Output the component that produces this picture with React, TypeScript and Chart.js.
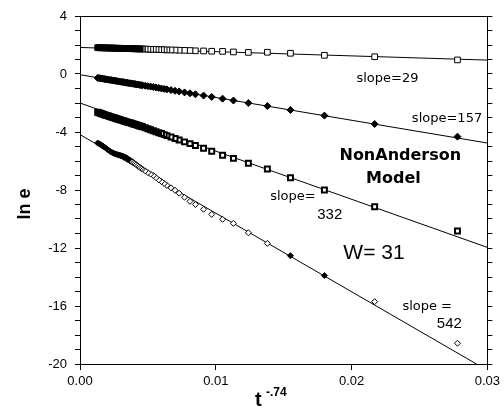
import React, { useEffect, useRef } from "react";
import { Chart, registerables } from "chart.js";

Chart.register(...registerables);

// x values: t^-0.74
const xValues = [
  0.0278, 0.0217, 0.018, 0.0155, 0.0138, 0.0124, 0.0113, 0.0105, 0.0097, 0.0091,
  0.0085, 0.0081, 0.0077, 0.0073, 0.007, 0.0067, 0.0064, 0.0062, 0.006, 0.0058,
  0.0056, 0.0054, 0.0052, 0.005, 0.0048, 0.0046, 0.0045, 0.0044, 0.0043, 0.0042,
  0.0041, 0.004, 0.0039, 0.0038, 0.0037, 0.0036, 0.0035, 0.0034, 0.0033, 0.0032,
  0.0031, 0.003, 0.0029, 0.0028, 0.0027, 0.0026, 0.0025, 0.0024, 0.0023, 0.0022,
  0.0021, 0.002, 0.0019, 0.0018, 0.0017, 0.0016, 0.0015, 0.0014, 0.0013,
];

// ln e, slope = 29 (open squares)
const seriesSlope29 = [
  0.97, 1.19, 1.29, 1.43, 1.5, 1.49, 1.52, 1.56, 1.57, 1.59,
  1.6, 1.62, 1.63, 1.64, 1.65, 1.66, 1.66, 1.67, 1.68, 1.68,
  1.69, 1.7, 1.7, 1.71, 1.72, 1.73, 1.72, 1.73, 1.73, 1.74,
  1.73, 1.74, 1.75, 1.75, 1.74, 1.75, 1.76, 1.76, 1.77, 1.76,
  1.77, 1.77, 1.78, 1.78, 1.77, 1.78, 1.79, 1.79, 1.78, 1.79,
  1.8, 1.8, 1.79, 1.8, 1.81, 1.81, 1.8, 1.81, 1.82,
];

// ln e, slope = 157 (filled diamonds)
const seriesSlope157 = [
  -4.32, -3.45, -2.87, -2.48, -2.21, -2.0, -1.83, -1.7, -1.58, -1.49,
  -1.4, -1.33, -1.27, -1.2, -1.16, -1.11, -1.06, -1.03, -1.0, -0.96,
  -0.93, -0.9, -0.87, -0.84, -0.81, -0.78, -0.77, -0.75, -0.73, -0.72,
  -0.7, -0.69, -0.67, -0.66, -0.64, -0.63, -0.61, -0.6, -0.58, -0.56,
  -0.55, -0.53, -0.52, -0.5, -0.49, -0.47, -0.45, -0.44, -0.42, -0.41,
  -0.39, -0.38, -0.36, -0.35, -0.33, -0.31, -0.3, -0.28, -0.27,
];

// ln e, slope = 332 (heavy squares)
const seriesSlope332 = [
  -10.83, -9.15, -8.0, -7.15, -6.55, -6.16, -5.82, -5.6, -5.33, -5.12,
  -4.93, -4.8, -4.68, -4.55, -4.45, -4.35, -4.25, -4.18, -4.11, -4.05,
  -3.98, -3.91, -3.84, -3.78, -3.71, -3.64, -3.61, -3.58, -3.55, -3.52,
  -3.49, -3.46, -3.43, -3.4, -3.37, -3.35, -3.32, -3.29, -3.26, -3.23,
  -3.2, -3.17, -3.14, -3.11, -3.08, -3.05, -3.02, -2.99, -2.96, -2.93,
  -2.9, -2.87, -2.84, -2.81, -2.77, -2.74, -2.71, -2.67, -2.64,
];

// ln e, slope = 542 (open diamonds, two filled)
const seriesSlope542 = [
  -18.57, -15.7, -13.9, -12.53, -11.68, -10.95, -10.3, -10.02, -9.68, -9.33,
  -9.0, -8.78, -8.5, -8.22, -8.02, -7.85, -7.68, -7.55, -7.42, -7.3,
  -7.15, -7.0, -6.9, -6.8, -6.68, -6.56, -6.5, -6.43, -6.36, -6.29,
  -6.22, -6.15, -6.08, -6.01, -5.95, -5.89, -5.83, -5.78, -5.73, -5.69,
  -5.65, -5.62, -5.6, -5.57, -5.54, -5.51, -5.47, -5.43, -5.38, -5.32,
  -5.25, -5.18, -5.11, -5.04, -4.98, -4.92, -4.86, -4.81, -4.76,
];
const filled542 = [false, false, true, true];

// fitted straight lines (start and end points)
const fitStartX = [0, 0, 0, 0];
const fitStartY = [1.83, -0.05, -2.0, -4.18];
const fitEndX = [0.03, 0.03, 0.03, 0.0292];
const fitEndY = [0.96, -4.76, -11.96, -20.0];

const xTickValues = [0, 0.01, 0.02, 0.03];
const yLabelStep = 4;

// below these x values the printed markers merge into solid black bands
const solidBelow29 = 0.0044;
const solidBelow332 = 0.0058;
const solidBelow542 = 0.0036;

const annotations = [
  { text: "slope=29", x: 0.02264, y: -0.34, font: "13px 'DejaVu Sans'" },
  { text: "slope=157", x: 0.02703, y: -3.06, font: "13px 'DejaVu Sans'" },
  { text: "NonAnderson", x: 0.02359, y: -5.66, font: "bold 16px 'DejaVu Sans'" },
  { text: "Model", x: 0.02308, y: -7.24, font: "bold 16px 'DejaVu Sans'" },
  { text: "slope=", x: 0.01568, y: -8.46, font: "13px 'DejaVu Sans'" },
  { text: "332", x: 0.01839, y: -9.68, font: "15px 'Liberation Sans'" },
  { text: "W= 31", x: 0.02165, y: -12.34, font: "21px 'Liberation Sans'" },
  { text: "slope =", x: 0.02557, y: -16.05, font: "13px 'DejaVu Sans'" },
  { text: "542", x: 0.0272, y: -17.24, font: "15px 'Liberation Sans'" },
];

const toPoints = (ys: number[]) => xValues.map((x, i) => ({ x, y: ys[i] }));

const textPlugin = {
  id: "texts",
  afterDraw(chart: any) {
    const ctx = chart.ctx;
    const xs = chart.scales.x;
    const ys = chart.scales.y;
    ctx.save();
    ctx.fillStyle = "#000";
    ctx.textAlign = "center";
    ctx.textBaseline = "middle";
    for (const a of annotations) {
      ctx.font = a.font;
      ctx.fillText(a.text, xs.getPixelForValue(a.x), ys.getPixelForValue(a.y));
    }
    // y-axis title
    ctx.save();
    ctx.translate(25, (ys.top + ys.bottom) / 2 + 14);
    ctx.rotate(-Math.PI / 2);
    ctx.font = "bold 18px 'Liberation Sans'";
    ctx.fillText("ln e", 0, 0);
    ctx.restore();
    // x-axis title
    ctx.textAlign = "left";
    ctx.textBaseline = "alphabetic";
    ctx.font = "bold 20px 'Liberation Sans'";
    ctx.fillText("t", 255, 406);
    ctx.font = "bold 12px 'Liberation Sans'";
    ctx.fillText("-.74", 266, 396);
    ctx.restore();
  },
};

export default function App() {
  const ref = useRef<HTMLCanvasElement | null>(null);
  useEffect(() => {
    if (!ref.current) return;
    const black = "#000";
    const white = "#fff";
    const lineDatasets = fitStartY.map((y0, i) => ({
      type: "line" as const,
      data: [
        { x: fitStartX[i], y: y0 },
        { x: fitEndX[i], y: fitEndY[i] },
      ],
      borderColor: black,
      borderWidth: 1,
      pointRadius: 0,
      fill: false,
      order: 10,
    }));
    const chart = new Chart(ref.current, {
      type: "scatter",
      data: {
        datasets: [
          {
            data: toPoints(seriesSlope29),
            pointStyle: "rect",
            pointRadius: 4,
            borderWidth: 1,
            borderColor: black,
            backgroundColor: xValues.map((x) => (x <= solidBelow29 ? black : white)),
            order: 1,
          },
          {
            data: toPoints(seriesSlope157),
            pointStyle: "rectRot",
            pointRadius: 3.5,
            borderWidth: 1,
            borderColor: black,
            backgroundColor: black,
            order: 1,
          },
          {
            data: toPoints(seriesSlope332),
            pointStyle: "rect",
            pointRadius: 3.5,
            borderWidth: 2,
            borderColor: black,
            backgroundColor: xValues.map((x) => (x <= solidBelow332 ? black : white)),
            order: 1,
          },
          {
            data: toPoints(seriesSlope542),
            pointStyle: "rectRot",
            pointRadius: 3,
            borderWidth: 1,
            borderColor: black,
            backgroundColor: xValues.map((x, i) =>
              filled542[i] || x <= solidBelow542 ? black : white
            ),
            order: 1,
          },
          ...lineDatasets,
        ] as any,
      },
      options: {
        animation: false,
        responsive: false,
        maintainAspectRatio: false,
        layout: { padding: 0 },
        plugins: { legend: { display: false }, tooltip: { enabled: false } },
        scales: {
          x: {
            type: "linear",
            position: "bottom",
            min: 0,
            max: 0.03,
            afterBuildTicks: (s: any) => {
              s.ticks = xTickValues.map((v) => ({ value: v }));
            },
            ticks: {
              color: black,
              font: { family: "'Liberation Sans'", size: 13 },
              padding: 4,
              autoSkip: false,
              maxRotation: 0,
              callback: (v: any) => Number(v).toFixed(2),
            },
            grid: { drawOnChartArea: false, tickLength: 6, color: black },
            border: { color: black, width: 1 },
            afterFit: (s: any) => {
              s.height = 44;
            },
          },
          x2: {
            type: "linear",
            position: "top",
            min: 0,
            max: 0.03,
            ticks: { display: false },
            grid: { display: false },
            border: { color: black, width: 1 },
            afterFit: (s: any) => {
              s.height = 16;
            },
          },
          y: {
            type: "linear",
            position: "left",
            min: -20,
            max: 4,
            ticks: {
              stepSize: 1,
              autoSkip: false,
              color: black,
              padding: 8,
              font: { family: "'Liberation Sans'", size: 13 },
              callback: (v: any) => (Number(v) % yLabelStep === 0 ? String(v) : ""),
            },
            grid: { drawOnChartArea: false, tickLength: 5, color: black },
            border: { color: black, width: 1 },
            afterFit: (s: any) => {
              s.width = 80;
            },
          },
          y2: {
            type: "linear",
            position: "right",
            min: -20,
            max: 4,
            ticks: { stepSize: 1, autoSkip: false, display: false },
            grid: { drawOnChartArea: false, tickLength: 5, color: black },
            border: { color: black, width: 1 },
            afterFit: (s: any) => {
              s.width = 15;
            },
          },
        },
      } as any,
      plugins: [textPlugin],
    });
    return () => chart.destroy();
  }, []);
  return (
    <div style={{ position: "fixed", left: 0, top: 0, width: 504, height: 408, background: "#fff" }}>
      <canvas ref={ref} width={504} height={408} />
    </div>
  );
}
